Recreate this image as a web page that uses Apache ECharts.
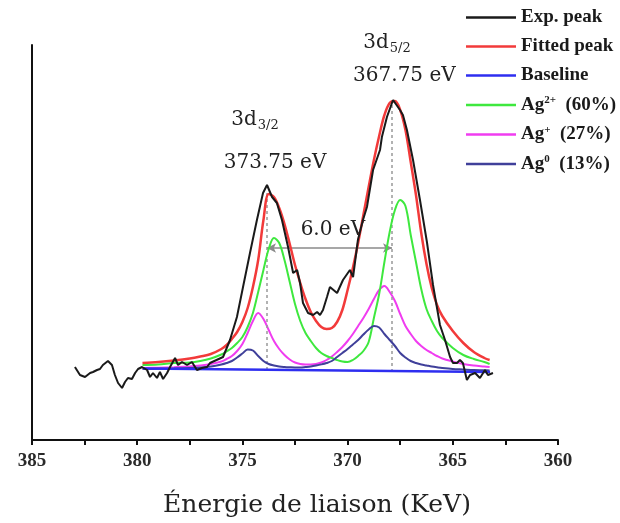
<!DOCTYPE html>
<html><head><meta charset="utf-8">
<script src="https://cdn.jsdelivr.net/npm/echarts@6/dist/echarts.min.js"></script>
<style>html,body{margin:0;padding:0;background:#fff}#c{width:620px;height:523px}</style>
</head><body><div id="c"></div>
<script>
// ---- data (binding energy in eV, intensity in arbitrary units) ----
const xTicks = [385, 380, 375, 370, 365, 360];
const seriesNames = ['Exp. peak', 'Fitted peak', 'Baseline', 'Ag2+', 'Ag+', 'Ag0'];
const legendPct = ['', '', '', '(60%)', '(27%)', '(13%)'];

const expX = [382.96,382.72,382.48,382.24,382.10,381.91,381.77,381.63,381.39,381.20,381.06,380.91,380.72,380.58,380.44,380.25,380.10,379.96,379.77,379.53,379.39,379.25,379.06,378.92,378.77,378.58,378.44,378.20,378.06,377.87,377.63,377.40,377.16,376.92,376.68,376.54,375.92,375.59,375.26,374.97,374.64,374.31,374.02,373.83,373.59,373.36,373.12,372.83,372.59,372.40,372.26,372.12,371.88,371.64,371.45,371.31,371.17,370.98,370.84,370.50,370.22,369.89,369.74,369.51,369.27,369.08,368.79,368.46,368.37,368.13,367.84,367.51,367.37,367.18,366.89,366.56,366.23,365.94,365.61,365.37,365.13,364.99,364.80,364.66,364.52,364.33,364.18,363.94,363.71,363.47,363.33,363.09];
const expY = [73,65,63,67,68,70,71,75,79,75,65,57,52,58,62,61,67,71,73,70,63,67,62,68,61,67,73,82,75,78,75,78,70,72,73,77,83,100,123,153,187,220,247,255,243,237,220,193,167,170,157,137,127,125,128,125,130,143,153,147,160,170,163,200,220,233,270,290,303,323,340,330,325,310,280,240,198,155,115,100,83,77,77,80,77,60,65,67,62,70,65,67];

// common energy grid of the fitted curves
const fitX = [379.75,379.0,378.25,377.5,377.0,376.5,376.0,375.75,375.5,375.25,375.0,374.75,374.5,374.25,374.0,373.75,373.5,373.25,373.0,372.75,372.5,372.25,372.0,371.75,371.5,371.25,371.0,370.75,370.5,370.25,370.0,369.75,369.5,369.25,369.0,368.75,368.5,368.25,368.0,367.75,367.5,367.25,367.0,366.75,366.5,366.25,366.0,365.75,365.5,365.0,364.5,364.0,363.5,363.25];
const fittedY = [77,78,79.5,81.5,83.5,86,91,95,101,108,118,132,153,180,220,246,243,232,216,196,175,157,141,128,119,113,111,112,118,130,150,172,197,225,253,280,304,325,337,339,330,310,278,245,207,176,152,135,124,109,97,88,82,80];
const ag2Y = [75,75.5,77,77.5,79,81.5,85.5,88.5,92,97,103,113,127,148,170,191,202,197,180,158,136,119,107,99,92,87,84,82,80,78.5,78,80,84,89,98,122,146,178,208,230,240,234,205,178,151,131,119,109,102,92,85,81,78,76];
const ag1Y = [72,72.3,72.8,73.5,74.5,76,78.5,81,84,89,96,107,119,127,121,110,99,91,85,80.5,77.5,76,75.5,75.5,76,77.5,80,83.5,88,93,99,106,114,122,131,141,150,154,148,139,126,114,106,99,94,90,87,84,81.5,78.5,76,74.5,73.5,73];
const ag0Y = [71,71.2,71.5,72,72.5,73.5,75.5,77,79,82.5,86.5,90.5,89.5,84,79,76,74.5,73.5,73,72.7,72.5,72.5,73,73.6,74.5,75.6,77,79,83,87,91,95.5,100,105.5,110.5,114,112.5,106,100,94,87,82.5,79,77,75.5,74.5,73.5,72.7,72,71,70.5,70,69.7,69.5];

const baseX = [379.72, 363.23];
const baseY = [71.5, 68];

const peakPos = [373.83, 367.89];
const peakTop = [250, 335];
const peakBottom = [70, 68];
const splitY = 192;

const colors = ['#1a1a1a', '#f23a3a', '#2e2ef0', '#3ee83e', '#f03cf0', '#40409a'];
// -------------------------------------------------------------------

function pairs(xs, ys) { return xs.map((x, i) => [x, ys[i]]); }

const chart = echarts.init(document.getElementById('c'), null, { renderer: 'canvas' });
const serif = 'DejaVu Serif';
const allData = [pairs(expX, expY), pairs(fitX, fittedY), pairs(baseX, baseY), pairs(fitX, ag2Y), pairs(fitX, ag1Y), pairs(fitX, ag0Y)];
const widths = [2, 2.5, 2.5, 2, 2, 2];
const zs = [8, 7, 6, 5, 4, 5];

const series = seriesNames.map((n, i) => ({
  name: n, type: 'line', data: allData[i], symbol: 'none', showSymbol: false,
  smooth: i === 0 ? false : 0.35,
  lineStyle: { color: colors[i], width: widths[i] }, itemStyle: { color: colors[i] },
  z: zs[i], animation: false, silent: true
}));

// vertical dotted lines at peak positions
series.push({
  type: 'line', data: [], symbol: 'none', silent: true, animation: false, z: 3,
  markLine: {
    symbol: ['none', 'none'], silent: true, animation: false,
    lineStyle: { color: '#999', type: [3, 3], width: 1.5 }, label: { show: false },
    data: peakPos.map((p, i) => [{ coord: [p, peakBottom[i]] }, { coord: [p, peakTop[i]] }])
  }
});
// spin-orbit splitting arrow
series.push({
  type: 'line', data: [], symbol: 'none', silent: true, animation: false, z: 3,
  markLine: {
    symbol: ['arrow', 'arrow'], symbolSize: [7, 9], silent: true, animation: false,
    lineStyle: { color: '#8a8a8a', type: 'solid', width: 1.5 },
    itemStyle: { color: '#333' },
    label: { show: false },
    data: [[{ coord: [peakPos[0], splitY] }, { coord: [peakPos[1], splitY] }]]
  }
});

const supMap = { 'Ag2+': ['Ag', '2+'], 'Ag+': ['Ag', '+'], 'Ag0': ['Ag', '0'] };

chart.setOption({
  animation: false,
  backgroundColor: '#fff',
  grid: { left: 32, right: 62, top: 45, bottom: 83, containLabel: false },
  xAxis: {
    type: 'value', inverse: true, min: 360, max: 385, interval: 5,
    axisLine: { show: true, onZero: false, lineStyle: { color: '#111', width: 2 } },
    axisTick: { show: true, length: 5, lineStyle: { color: '#111', width: 2 } },
    minorTick: { show: true, splitNumber: 2, length: 5, lineStyle: { color: '#111', width: 2 } },
    splitLine: { show: false },
    axisLabel: { color: '#2a2a2a', fontFamily: 'Liberation Serif', fontWeight: 'bold', fontSize: 19, margin: 12,
      formatter: v => xTicks.includes(v) ? String(v) : '' },
    name: 'Énergie de liaison (KeV)', nameLocation: 'middle', nameGap: 53,
    nameTextStyle: { fontFamily: serif, fontSize: 25, color: '#222', padding: [0, 0, 0, 44] }
  },
  yAxis: {
    type: 'value', min: 0, max: 395,
    axisLine: { show: true, lineStyle: { color: '#111', width: 2 } },
    axisTick: { show: false }, axisLabel: { show: false }, splitLine: { show: false }
  },
  legend: {
    orient: 'vertical', left: 461, top: 3, itemWidth: 50, itemHeight: 2.5, itemGap: 10, icon: 'rect',
    data: seriesNames,
    textStyle: {
      fontFamily: 'Liberation Serif', fontWeight: 'bold', fontSize: 19, color: '#1a1a1a',
      rich: {
        a: { fontFamily: 'Liberation Serif', fontWeight: 'bold', fontSize: 19, color: '#1a1a1a', lineHeight: 20 },
        s: { fontFamily: 'Liberation Serif', fontWeight: 'bold', fontSize: 11, color: '#1a1a1a', lineHeight: 20, verticalAlign: 'top', padding: [0, 0, 8, 0] }
      }
    },
    formatter: n => {
      const i = seriesNames.indexOf(n);
      if (supMap[n]) return '{a|' + supMap[n][0] + '}{s|' + supMap[n][1] + '}{a|  ' + legendPct[i] + '}';
      return '{a|' + n + '}';
    }
  },
  series: series
});

// annotation texts placed at data coordinates
const notes = [
  { at: [374.40, 320], rich: '{a|3d}{b|3/2}' },
  { at: [373.45, 277], rich: '{a|373.75 eV}' },
  { at: [368.13, 397], rich: '{a|3d}{b|5/2}' },
  { at: [367.30, 364], rich: '{a|367.75 eV}' },
  { at: [370.70, 210], rich: '{a|6.0 eV}' }
];
const gr = notes.map(n => {
  const p = chart.convertToPixel({ gridIndex: 0 }, n.at);
  return {
    type: 'text', x: p[0], y: p[1], silent: true,
    style: {
      text: n.rich, align: 'center', verticalAlign: 'middle',
      rich: {
        a: { fontFamily: serif, fontSize: 20, fill: '#222', lineHeight: 24, verticalAlign: 'middle' },
        b: { fontFamily: serif, fontSize: 13, fill: '#222', lineHeight: 24, verticalAlign: 'bottom', padding: [0, 0, 0, 1] }
      }
    }
  };
});
chart.setOption({ graphic: gr });
</script></body></html>
